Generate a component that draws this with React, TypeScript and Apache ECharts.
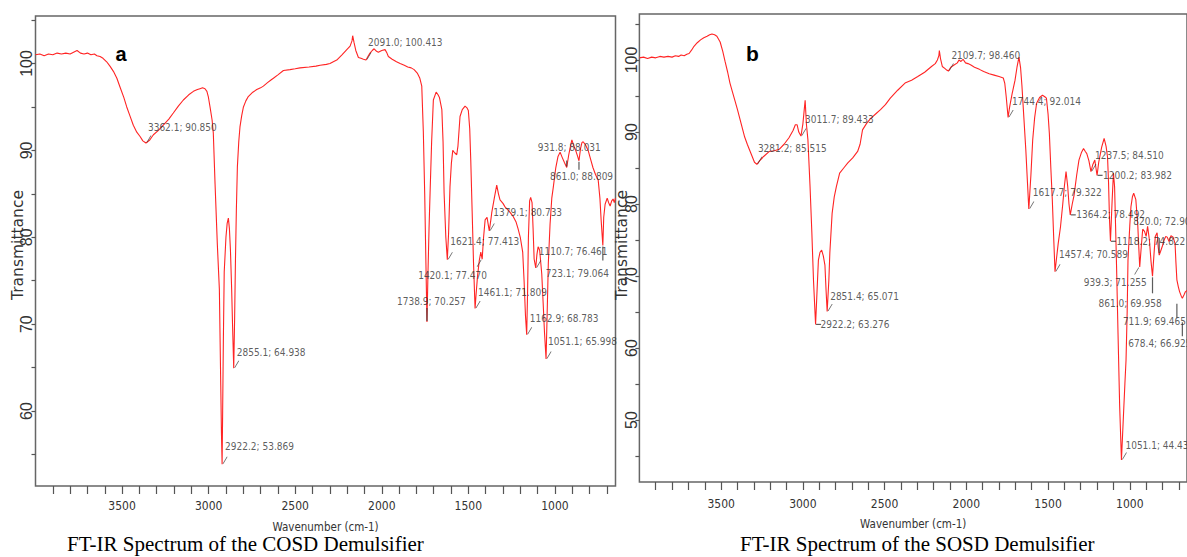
import React, { useEffect, useRef } from "react";
import * as echarts from "echarts";

// ---------- Panel a : COSD spectrum ----------
const cosdWavenumber = [
  4000, 3975, 3950, 3925, 3900, 3875, 3850, 3825, 3800, 3780, 3760, 3740, 3720, 3700, 3680, 3660, 3645, 3627, 3610, 3589,
  3570, 3550, 3530, 3512, 3490, 3473, 3455, 3435, 3415, 3396, 3380, 3362.1, 3340, 3319, 3290, 3262, 3230, 3204, 3175, 3146,
  3115, 3088, 3065, 3050, 3035, 3021, 3010, 3002, 2992, 2980, 2973, 2963, 2950, 2938, 2930, 2926, 2922.2, 2919, 2915, 2910,
  2900, 2893, 2886, 2880, 2874, 2867, 2862, 2855.1, 2850, 2845, 2840, 2834, 2826, 2819, 2809, 2799, 2785, 2771, 2745, 2722,
  2700, 2684, 2660, 2640, 2626, 2600, 2568, 2530, 2500, 2472, 2420, 2380, 2356, 2320, 2299, 2280, 2260, 2230, 2202, 2183,
  2172, 2168, 2160, 2150, 2135, 2120, 2106, 2091.0, 2080, 2068, 2055, 2044, 2030, 2020, 2000, 1981, 1970, 1962, 1940, 1915,
  1894, 1870, 1850, 1830, 1813, 1795, 1780, 1769, 1760, 1752, 1745, 1738.9, 1733, 1727, 1721, 1712, 1702, 1686, 1675, 1667,
  1653, 1646, 1640, 1630, 1621.4, 1614, 1606, 1598, 1590, 1578, 1567, 1560, 1548, 1535, 1519, 1508, 1500, 1492, 1486, 1478,
  1470, 1461.1, 1455, 1447, 1437, 1428, 1420.1, 1412, 1403, 1392, 1379.1, 1370, 1365, 1350, 1336, 1326, 1317, 1300, 1288, 1265,
  1241, 1225, 1213, 1200, 1186, 1178, 1170, 1162.9, 1158, 1153, 1146, 1140, 1132, 1126, 1120, 1110.7, 1104, 1097, 1088, 1076,
  1068, 1060, 1051.1, 1045, 1038, 1028, 1018, 1009, 995, 982, 970, 958, 945, 931.8, 920, 910, 902, 892, 880, 870,
  861.0, 852, 844, 837, 822, 808, 794, 780, 765, 750, 740, 733, 723.1, 718, 710, 698, 690, 681, 672, 664,
  657, 650,
];
const cosdTransmittance = [
  101.0, 101.1, 100.9, 101.1, 101.0, 101.2, 101.1, 101.2, 101.1, 101.3, 101.5, 101.2, 101.1, 101.2, 101.0, 101.1, 100.9, 100.8, 100.6, 100.2,
  99.7, 99.1, 98.3, 97.3, 96.1, 95.0, 94.0, 92.9, 92.1, 91.6, 91.1, 90.85, 91.2, 91.8, 92.3, 92.9, 93.6, 94.3, 95.1, 95.8,
  96.4, 96.8, 97.0, 97.1, 97.2, 97.1, 96.8, 96.2, 95.0, 93.5, 92.0, 86.2, 79.3, 74.0, 63.0, 57.5, 53.869, 60.0, 68.0, 76.0,
  80.0, 81.6, 82.2, 81.0, 78.5, 74.0, 70.0, 64.938, 70.5, 77.5, 83.0, 88.1, 91.0, 92.7, 94.0, 95.0, 95.7, 96.2, 96.7, 97.0,
  97.2, 97.4, 97.8, 98.1, 98.3, 98.7, 99.2, 99.3, 99.4, 99.5, 99.6, 99.7, 99.8, 99.9, 100.0, 100.2, 100.4, 101.0, 101.6, 102.0,
  102.6, 103.2, 102.4, 101.5, 100.7, 100.6, 100.5, 100.413, 100.8, 101.2, 101.5, 101.7, 101.4, 101.3, 101.5, 101.6, 101.2, 100.8, 100.5, 100.2,
  100.0, 99.8, 99.6, 99.5, 99.3, 98.9, 98.3, 97.4, 92.2, 85.0, 77.0, 70.257, 76.0, 81.0, 85.1, 91.0, 95.8, 96.7, 96.4, 96.1,
  94.7, 91.0, 85.1, 80.0, 77.413, 80.5, 85.8, 88.5, 90.0, 89.7, 89.5, 90.5, 93.9, 94.7, 95.1, 94.9, 94.6, 92.5, 88.9, 83.0,
  77.0, 71.809, 73.5, 75.5, 77.3, 78.3, 77.47, 80.0, 82.0, 82.3, 80.733, 82.0, 82.8, 84.5, 86.0, 85.0, 84.3, 83.9, 83.5, 83.0,
  82.4, 81.8, 81.0, 80.0, 78.3, 75.0, 71.0, 68.783, 73.5, 80.0, 84.2, 84.6, 84.0, 81.0, 77.5, 76.461, 78.0, 78.9, 78.5, 75.8,
  72.5, 69.0, 65.998, 71.0, 77.0, 81.5, 84.5, 85.8, 88.0, 89.3, 89.8, 89.2, 88.6, 88.031, 89.5, 90.5, 91.2, 90.6, 90.0, 89.4,
  88.809, 90.2, 90.9, 91.0, 90.6, 90.0, 89.0, 88.0, 87.2, 86.6, 84.5, 82.0, 79.064, 82.3, 83.8, 84.5, 84.0, 83.6, 84.2, 84.4,
  84.0, 84.5,
];

// ---------- Panel b : SOSD spectrum ----------
const sosdWavenumber = [
  4000, 3975, 3950, 3925, 3900, 3875, 3850, 3825, 3800, 3780, 3760, 3745, 3726, 3710, 3696, 3680, 3666, 3646, 3626, 3606,
  3586, 3570, 3556, 3540, 3526, 3506, 3490, 3476, 3460, 3446, 3430, 3416, 3400, 3386, 3370, 3356, 3340, 3326, 3310, 3296,
  3281.2, 3265, 3240, 3205, 3175, 3145, 3115, 3085, 3060, 3046, 3035, 3025, 3011.7, 3000, 2992, 2986, 2978, 2969, 2956, 2945,
  2935, 2922.2, 2915, 2905, 2895, 2885, 2875, 2865, 2858, 2851.4, 2841, 2835, 2821, 2808, 2795, 2775, 2750, 2725, 2695, 2665,
  2650, 2635, 2610, 2585, 2555, 2525, 2495, 2465, 2420, 2375, 2335, 2297, 2255, 2213, 2190, 2177, 2168, 2165, 2158, 2147,
  2130, 2120, 2109.7, 2095, 2075, 2055, 2045, 2033, 2020, 2005, 1990, 1972, 1950, 1920, 1894, 1860, 1830, 1800, 1774, 1765,
  1756, 1744.4, 1735, 1720, 1702, 1690, 1678, 1668, 1660, 1648, 1636, 1626, 1617.7, 1605, 1594, 1582, 1570, 1552, 1534, 1520,
  1510, 1500, 1492, 1483, 1474, 1465, 1457.4, 1448, 1438, 1424, 1410, 1400, 1390, 1380, 1372, 1364.2, 1352, 1341, 1325, 1311,
  1295, 1283, 1272, 1263, 1250, 1237.5, 1226, 1214, 1207, 1200.2, 1190, 1172, 1157, 1145, 1136, 1130, 1124, 1118.2, 1108, 1100,
  1093, 1087, 1081, 1072, 1062, 1051.1, 1040, 1030, 1023, 1016, 1011, 1000, 993, 984, 976, 963, 951, 945, 939.3, 930,
  921, 910, 900, 891, 880, 870, 861.0, 852, 844, 833, 826, 820.0, 812, 800, 790, 780, 771, 760, 748, 735,
  723, 718, 711.9, 703, 695, 685, 678.4, 668, 660, 650,
];
const sosdTransmittance = [
  100.3, 100.4, 100.2, 100.4, 100.3, 100.5, 100.4, 100.5, 100.4, 100.6, 100.5, 100.7, 100.6, 100.8, 100.9, 101.4, 101.9, 102.4, 102.8, 103.1,
  103.3, 103.5, 103.6, 103.5, 103.3, 102.5, 101.2, 99.8, 98.3, 96.8, 95.5, 94.4, 93.1, 91.9, 90.5, 89.3, 88.3, 87.5, 86.6, 85.8,
  85.515, 86.0, 86.6, 87.3, 87.4, 87.6, 88.3, 89.2, 90.2, 91.0, 91.0, 90.0, 89.433, 91.1, 93.0, 94.4, 91.0, 88.9, 82.4, 76.0,
  69.4, 63.276, 67.0, 72.2, 73.3, 73.6, 72.8, 71.5, 68.0, 65.071, 69.4, 73.2, 78.7, 81.0, 82.4, 84.3, 85.0, 85.7, 86.4, 87.3,
  88.3, 90.3, 91.2, 91.9, 92.5, 93.1, 93.8, 94.7, 95.8, 96.8, 97.2, 97.7, 98.3, 99.1, 99.5, 100.0, 100.6, 101.3, 100.2, 99.1,
  98.8, 98.6, 98.46, 99.0, 99.3, 99.6, 100.0, 99.8, 100.1, 99.6, 99.5, 99.3, 99.0, 98.7, 98.4, 98.1, 97.9, 97.7, 97.5, 96.8,
  94.9, 92.014, 93.5, 95.3, 97.2, 99.0, 100.4, 98.9, 96.5, 92.0, 87.5, 83.0, 79.322, 84.0, 88.9, 92.0, 94.0, 94.8, 95.1, 94.9,
  94.7, 92.5, 89.8, 85.0, 80.6, 75.0, 70.589, 72.5, 74.5, 76.8, 80.0, 82.5, 84.5, 82.5, 80.0, 78.492, 80.0, 81.2, 84.0, 86.1,
  87.2, 87.7, 87.3, 87.0, 86.0, 84.51, 85.5, 86.1, 85.0, 83.982, 85.8, 87.9, 89.1, 88.0, 86.5, 83.0, 77.8, 74.822, 80.5, 84.3,
  82.4, 77.0, 71.4, 62.0, 52.0, 44.437, 50.0, 55.0, 58.3, 65.0, 72.2, 77.0, 79.6, 81.0, 81.5, 80.6, 77.0, 74.0, 71.255, 74.0,
  76.5, 76.2, 75.5, 76.9, 75.0, 72.0, 69.958, 73.0, 75.5, 76.0, 74.0, 72.904, 73.4, 74.2, 75.0, 75.5, 75.4, 74.8, 75.6, 75.4,
  74.5, 72.0, 69.465, 68.5, 67.8, 67.2, 66.925, 67.4, 67.8, 68.0,
];

// ---------- Annotated peaks ----------
const cosdPeakWavenumber = [3362.1, 2091.0, 2922.2, 2855.1, 1738.9, 1621.4, 1420.1, 1461.1, 1379.1, 1162.9, 1051.1, 1110.7, 723.1, 931.8, 861.0];
const cosdPeakTransmittance = [90.85, 100.413, 53.869, 64.938, 70.257, 77.413, 77.47, 71.809, 80.733, 68.783, 65.998, 76.461, 79.064, 88.031, 88.809];
const sosdPeakWavenumber = [3281.2, 3011.7, 2922.2, 2851.4, 2109.7, 1744.4, 1617.7, 1457.4, 1364.2, 1237.5, 1200.2, 1118.2, 820.0, 939.3, 861.0, 711.9, 678.4, 1051.1];
const sosdPeakTransmittance = [85.515, 89.433, 63.276, 65.071, 98.46, 92.014, 79.322, 70.589, 78.492, 84.51, 83.982, 74.822, 72.904, 71.255, 69.958, 69.465, 66.925, 44.437];

// ---------- Axis ticks / labels ----------
const xTickValues = [3900, 3800, 3700, 3600, 3500, 3400, 3300, 3200, 3100, 3000, 2900, 2800, 2700, 2600, 2500, 2400, 2300, 2200, 2100, 2000, 1900, 1800, 1700, 1600, 1500, 1400, 1300, 1200, 1100, 1000, 900, 800, 700];
const xLabelValues = [3500, 3000, 2500, 2000, 1500, 1000];
const cosdYTicks = [55, 60, 65, 70, 75, 80, 85, 90, 95, 100, 105];
const cosdYLabels = [60, 70, 80, 90, 100];
const sosdYTicks = [45, 50, 55, 60, 65, 70, 75, 80, 85, 90, 95, 100, 105];
const sosdYLabels = [50, 60, 70, 80, 90, 100];

// ---------- label placement (style) ----------
type Marker = { kind: "ne" | "sw" | "up" | "down" | "dash"; len?: number; gap?: number };
const cosdLabelOffset = [[2, -16], [2, -17], [3, -18], [3, -16], [-30, -20], [3, -18], [-64, 16], [3, -16], [4, -18], [3, -16], [2, -17], [3, -17], [-57, 28], [-29, -20], [-29, 16]];
const cosdMarker: Marker[] = [
  { kind: "ne" }, { kind: "ne" }, { kind: "ne" }, { kind: "ne" }, { kind: "up", len: 13 }, { kind: "ne" }, { kind: "sw" }, { kind: "ne" },
  { kind: "ne" }, { kind: "ne" }, { kind: "ne" }, { kind: "ne" }, { kind: "down", len: 14 }, { kind: "up", len: 6 }, { kind: "down", len: 8 },
];
const sosdLabelOffset = [[1, -16], [4, -17], [5, 0], [3, -15], [3, -16], [4, -16], [4, -16], [4, -17], [6, 0], [4, -16], [6, 0], [6, 0], [-26, -34], [-56, 16], [-54, 27], [-54, 42], [-54, 45], [4, -15]];
const sosdMarker: Marker[] = [
  { kind: "ne" }, { kind: "ne" }, { kind: "dash" }, { kind: "ne" }, { kind: "ne" }, { kind: "ne" }, { kind: "ne" }, { kind: "ne" },
  { kind: "dash" }, { kind: "ne" }, { kind: "dash" }, { kind: "dash" }, { kind: "up", len: 15, gap: 2 }, { kind: "sw" },
  { kind: "down", len: 16 }, { kind: "down", len: 14, gap: 24 }, { kind: "down", len: 14, gap: 24 }, { kind: "ne" },
];

const NARROW = "'Liberation Sans Narrow', 'Arial Narrow', 'DejaVu Sans Condensed', 'Liberation Sans', sans-serif";
const SANS = "'Liberation Sans', Arial, sans-serif";
const SERIF = "'Liberation Serif', 'Times New Roman', serif";
const DIAG = "path://M0,8L5,0L6,0L1,8Z";
const INK = "#333333";
const LINE_RED = "#ff2424";

function zip(xs: number[], ys: number[]) {
  return xs.map((x, i) => [x, ys[i]]);
}

function markerItems(xs: number[], ys: number[], ms: Marker[]) {
  return xs.map((x, i) => {
    const m = ms[i];
    const base: any = { value: [x, ys[i]] };
    if (m.kind === "ne") {
      return { ...base, symbol: DIAG, symbolSize: [5, 7], symbolOffset: [3, -4] };
    }
    if (m.kind === "sw") {
      return { ...base, symbol: DIAG, symbolSize: [5, 7], symbolOffset: [-3, 4] };
    }
    if (m.kind === "dash") {
      return { ...base, symbol: "rect", symbolSize: [5, 1.2], symbolOffset: [3, 0] };
    }
    const len = m.len || 10;
    const gap = m.gap || 1;
    const dir = m.kind === "up" ? -1 : 1;
    return { ...base, symbol: "rect", symbolSize: [1.2, len], symbolOffset: [0, dir * (len / 2 + gap)] };
  });
}

function labelItems(xs: number[], ys: number[], offs: number[][]) {
  return xs.map((x, i) => ({
    value: [x, ys[i]],
    name: `${x.toFixed(1)}; ${ys[i].toFixed(3)}`,
    label: { offset: offs[i] },
  }));
}

function xAxisFor(gridIndex: number, margin: number, nameGap: number) {
  return {
    gridIndex,
    type: "value",
    inverse: true,
    min: 650,
    max: 4000,
    axisLine: { show: false },
    splitLine: { show: false },
    axisTick: { show: true, length: 8, customValues: xTickValues, lineStyle: { color: "#555", width: 1.2 } },
    axisLabel: {
      customValues: xLabelValues,
      margin,
      fontFamily: NARROW,
      fontSize: 12,
      color: INK,
      formatter: (v: number) => String(v),
    },
    name: "Wavenumber (cm-1)",
    nameLocation: "middle",
    nameGap,
    nameTextStyle: { fontFamily: NARROW, fontSize: 11.5, color: INK },
  };
}

function yAxisFor(gridIndex: number, min: number, max: number, ticks: number[], labels: number[], margin: number) {
  return {
    gridIndex,
    type: "value",
    min,
    max,
    axisLine: { show: false },
    splitLine: { show: false },
    axisTick: { show: true, length: 4, customValues: ticks, lineStyle: { color: "#555", width: 1.2 } },
    axisLabel: {
      customValues: labels,
      rotate: 90,
      margin,
      fontFamily: SANS,
      fontSize: 16,
      color: INK,
      formatter: (v: number) => String(v),
    },
  };
}

function peakSeries(axis: number, xs: number[], ys: number[], ms: Marker[], offs: number[][]) {
  return [
    {
      type: "scatter",
      xAxisIndex: axis,
      yAxisIndex: axis,
      silent: true,
      z: 4,
      itemStyle: { color: INK },
      data: markerItems(xs, ys, ms),
    },
    {
      type: "scatter",
      xAxisIndex: axis,
      yAxisIndex: axis,
      silent: true,
      z: 5,
      symbol: "circle",
      symbolSize: 1,
      itemStyle: { color: "rgba(0,0,0,0)" },
      label: {
        show: true,
        position: "inside",
        align: "left",
        verticalAlign: "middle",
        formatter: "{b}",
        color: INK,
        fontFamily: NARROW,
        fontSize: 10,
        textBorderWidth: 0,
      },
      data: labelItems(xs, ys, offs),
    },
  ];
}

function textEl(text: string, x: number, y: number, font: any, extra: any = {}) {
  return {
    type: "text",
    x,
    y,
    silent: true,
    ...extra,
    style: {
      text,
      fill: font.fill || "#000",
      fontFamily: font.family,
      fontSize: font.size,
      fontWeight: font.weight || "normal",
      align: font.align || "left",
      verticalAlign: "middle",
      textAlign: font.align || "left",
      textVerticalAlign: "middle",
    },
  };
}

export default function App() {
  const ref = useRef<HTMLDivElement>(null);

  useEffect(() => {
    if (!ref.current) return;
    const chart = echarts.init(ref.current, undefined, { renderer: "svg" });
    const option: any = {
      animation: false,
      backgroundColor: "#ffffff",
      grid: [
        { left: 35.5, top: 16, width: 580, height: 470, show: true, borderColor: "#666", borderWidth: 1.5, backgroundColor: "transparent" },
        { left: 639.4, top: 14, width: 557.6, height: 468, show: true, borderColor: "#666", borderWidth: 1.5, backgroundColor: "transparent" },
      ],
      xAxis: [xAxisFor(0, 14, 35), xAxisFor(1, 16, 36)],
      yAxis: [
        yAxisFor(0, 51.37, 105.47, cosdYTicks, cosdYLabels, 1),
        yAxisFor(1, 41.39, 106.39, sosdYTicks, sosdYLabels, 0),
      ],
      series: [
        {
          type: "line",
          xAxisIndex: 0,
          yAxisIndex: 0,
          data: zip(cosdWavenumber, cosdTransmittance),
          showSymbol: false,
          symbol: "none",
          silent: true,
          clip: true,
          lineStyle: { color: LINE_RED, width: 1.1 },
        },
        ...peakSeries(0, cosdPeakWavenumber, cosdPeakTransmittance, cosdMarker, cosdLabelOffset),
        {
          type: "line",
          xAxisIndex: 1,
          yAxisIndex: 1,
          data: zip(sosdWavenumber, sosdTransmittance),
          showSymbol: false,
          symbol: "none",
          silent: true,
          clip: true,
          lineStyle: { color: LINE_RED, width: 1.1 },
        },
        ...peakSeries(1, sosdPeakWavenumber, sosdPeakTransmittance, sosdMarker, sosdLabelOffset),
      ],
      graphic: [
        textEl("Transmittance", 17.5, 245, { family: "'DejaVu Sans', sans-serif", size: 15.5, align: "center", fill: INK }, { rotation: Math.PI / 2 }),
        textEl("Transmittance", 622, 245, { family: "'DejaVu Sans', sans-serif", size: 15.5, align: "center", fill: INK }, { rotation: Math.PI / 2 }),
        textEl("a", 121, 54, { family: SANS, size: 20, weight: "bold", align: "center" }),
        textEl("b", 752.5, 53, { family: SANS, size: 21, weight: "bold", align: "center" }),
        textEl("FT-IR Spectrum of the COSD Demulsifier", 67, 544, { family: SERIF, size: 21 }),
        textEl("FT-IR Spectrum of the SOSD Demulsifier", 740, 544, { family: SERIF, size: 21 }),
      ],
    };
    chart.setOption(option);
    return () => chart.dispose();
  }, []);

  return (
    <div
      ref={ref}
      style={{ position: "absolute", left: 0, top: 0, width: 1187, height: 557, overflow: "hidden", background: "#fff" }}
    />
  );
}
